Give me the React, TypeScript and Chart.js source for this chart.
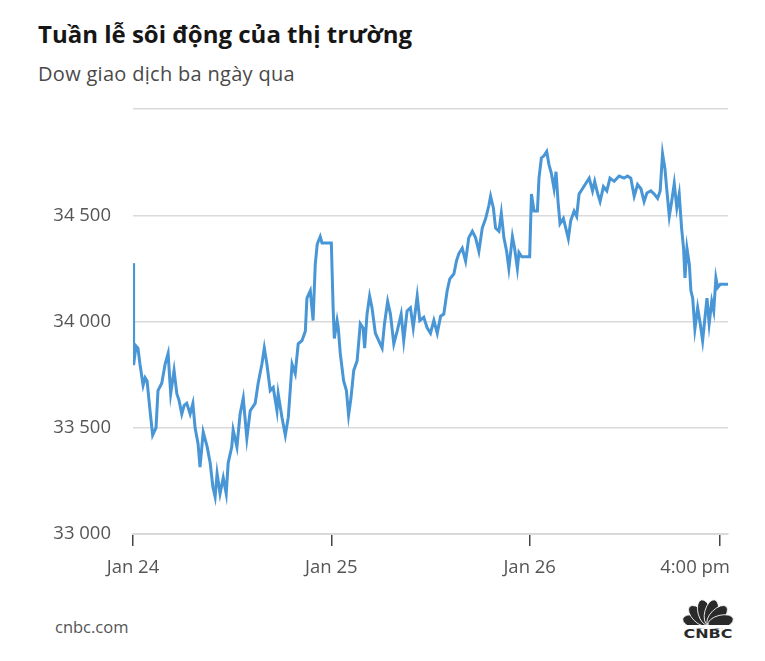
import React, { useEffect, useRef } from "react";
import { Chart, registerables } from "chart.js";

Chart.register(...registerables);

// Time in trading days since the Jan 24 open (each session followed by the overnight gap)
const times: number[] = [
  0.000, 0.003, 0.015, 0.025, 0.035, 0.051, 0.061, 0.071, 0.086, 0.099, 0.116, 0.126, 0.145, 0.162, 0.177, 0.190,
  0.207, 0.221, 0.232, 0.246, 0.258, 0.271, 0.288, 0.302, 0.313, 0.328, 0.338, 0.354, 0.374, 0.389, 0.403, 0.414,
  0.424, 0.439, 0.455, 0.470, 0.480, 0.498, 0.505, 0.524, 0.540, 0.556, 0.574, 0.591, 0.616, 0.631, 0.650, 0.662,
  0.675, 0.692, 0.707, 0.726, 0.732, 0.751, 0.768, 0.783, 0.802, 0.818, 0.833, 0.852, 0.869, 0.877, 0.894, 0.908,
  0.919, 0.929, 0.944, 0.953, 1.000,
  1.009, 1.015, 1.029, 1.035, 1.045, 1.062, 1.076, 1.087, 1.099, 1.113, 1.130, 1.146, 1.160, 1.168, 1.180, 1.193,
  1.205, 1.222, 1.239, 1.256, 1.268, 1.284, 1.298, 1.315, 1.332, 1.352, 1.365, 1.382, 1.399, 1.413, 1.433, 1.446,
  1.466, 1.483, 1.500, 1.517, 1.534, 1.551, 1.567, 1.584, 1.597, 1.618, 1.631, 1.643, 1.660, 1.677, 1.693, 1.711,
  1.727, 1.744, 1.761, 1.778, 1.794, 1.803, 1.817, 1.828, 1.845, 1.857, 1.870, 1.884, 1.895, 1.913, 1.924, 1.938,
  1.946, 1.960, 2.000,
  2.009, 2.022, 2.039, 2.047, 2.059, 2.072, 2.086, 2.097, 2.110, 2.123, 2.133, 2.143, 2.153, 2.170, 2.182, 2.195,
  2.207, 2.224, 2.237, 2.249, 2.266, 2.283, 2.300, 2.317, 2.328, 2.342, 2.355, 2.372, 2.389, 2.405, 2.426, 2.451,
  2.476, 2.493, 2.510, 2.527, 2.544, 2.561, 2.577, 2.591, 2.611, 2.628, 2.645, 2.658, 2.670, 2.682, 2.692, 2.704,
  2.716, 2.729, 2.742, 2.754, 2.766, 2.776, 2.783, 2.793, 2.805, 2.813, 2.822, 2.833, 2.847, 2.860, 2.872, 2.884,
  2.894, 2.905, 2.918, 2.928, 2.939, 2.948, 2.961, 3.000,
];

// Dow Jones Industrial Average level
const dow: number[] = [
  34275, 33795, 33885, 33875, 33800, 33700, 33735, 33720, 33580, 33465, 33500, 33675, 33710, 33800, 33850, 33660,
  33770, 33660, 33630, 33565, 33605, 33615, 33565, 33615, 33500, 33425, 33315, 33480, 33410, 33335, 33220, 33175,
  33285, 33190, 33265, 33190, 33335, 33410, 33490, 33410, 33565, 33640, 33450, 33580, 33615, 33710, 33800, 33875,
  33800, 33675, 33690, 33580, 33660, 33550, 33465, 33550, 33800, 33755, 33895, 33910, 33955, 34110, 34145, 34005,
  34270, 34365, 34400, 34370, 34370,
  34065, 33920, 34005, 33970, 33850, 33720, 33675, 33560, 33640, 33770, 33815, 33990, 33970, 33875, 34035, 34120,
  34065, 33945, 33910, 33875, 33990, 34095, 34035, 33895, 33955, 34035, 33910, 34050, 34065, 33970, 34120, 34005,
  34020, 33970, 33945, 34005, 33945, 34025, 34035, 34145, 34200, 34225, 34285, 34320, 34345, 34285, 34395, 34425,
  34395, 34330, 34440, 34485, 34545, 34590, 34535, 34440, 34425, 34510, 34395, 34330, 34250, 34400, 34345, 34250,
  34325, 34305, 34305,
  34600, 34520, 34520, 34675, 34770, 34780, 34800, 34740, 34695, 34625, 34705, 34565, 34460, 34485, 34440, 34390,
  34475, 34520, 34495, 34600, 34625, 34650, 34675, 34615, 34660, 34605, 34565, 34635, 34615, 34675, 34660, 34685,
  34675, 34685, 34675, 34590, 34645, 34625, 34565, 34605, 34615, 34600, 34580, 34615, 34790, 34720, 34615, 34495,
  34565, 34650, 34535, 34600, 34440, 34345, 34205, 34345, 34270, 34145, 34110, 33965, 34065, 33990, 33910, 34020,
  34110, 33990, 34095, 34050, 34205, 34160, 34175, 34175,
];

const xTickValues: number[] = [0, 1, 2, 2.96];
const xTickLabels: string[] = ["Jan 24", "Jan 25", "Jan 26", "4:00 pm"];
const yTickValues: number[] = [33000, 33500, 34000, 34500, 35000];

const FONT = "'Open Sans', 'Noto Sans', sans-serif";
const TICK_FONT_SIZE = 18.5;

function fmt(v: number): string {
  return String(v).replace(/\B(?=(\d{3})+(?!\d))/g, " ");
}

// Draws the x tick labels, keeping the last one inside the plot's right edge
const xLabelPlugin = {
  id: "xLabels",
  afterDraw(chart: any) {
    const { ctx, chartArea, scales } = chart;
    const x = scales.x;
    ctx.save();
    ctx.font = `${TICK_FONT_SIZE}px ${FONT}`;
    ctx.fillStyle = "#555";
    ctx.textBaseline = "alphabetic";
    ctx.textAlign = "left";
    xTickValues.forEach((v, i) => {
      const label = xTickLabels[i];
      const w = ctx.measureText(label).width;
      const px = x.getPixelForValue(v);
      let left = px - w / 2;
      if (left + w > chartArea.right + 2) left = chartArea.right + 2 - w;
      ctx.fillText(label, left, chartArea.bottom + 39);
    });
    ctx.restore();
  },
};

export default function App() {
  const ref = useRef<HTMLCanvasElement | null>(null);

  useEffect(() => {
    if (!ref.current) return;
    const chart = new Chart(ref.current, {
      type: "line",
      data: {
        datasets: [
          {
            data: times.map((t, i) => ({ x: t, y: dow[i] })),
            borderColor: "#4896d6",
            borderWidth: 3,
            pointRadius: 0,
            tension: 0,
            fill: false,
          },
        ],
      },
      plugins: [xLabelPlugin],
      options: {
        animation: false,
        responsive: false,
        maintainAspectRatio: false,
        layout: { padding: { left: 0, right: 37, top: 14, bottom: 0 } },
        plugins: { legend: { display: false }, tooltip: { enabled: false } },
        scales: {
          x: {
            type: "linear",
            min: 0,
            max: 3,
            afterBuildTicks: (s: any) => {
              s.ticks = xTickValues.map((v) => ({ value: v }));
            },
            afterFit: (s: any) => {
              s.height = 56;
            },
            ticks: { display: false },
            grid: {
              drawOnChartArea: false,
              drawTicks: true,
              tickLength: 12,
              color: "#444",
              lineWidth: 1.5,
            },
            border: { display: true, color: "#d9d9d9", width: 2 },
          },
          y: {
            min: 33000,
            max: 35000,
            afterBuildTicks: (s: any) => {
              s.ticks = yTickValues.map((v) => ({ value: v }));
            },
            afterFit: (s: any) => {
              s.width = 133;
            },
            ticks: {
              padding: 22,
              color: "#555",
              font: { family: FONT, size: TICK_FONT_SIZE },
              callback: (v: any) => (Number(v) === 35000 ? "" : fmt(Number(v))),
            },
            grid: { drawTicks: false, color: "#dadada", lineWidth: 1.5 },
            border: { display: false },
          },
        },
      },
    });
    return () => chart.destroy();
  }, []);

  return (
    <div style={{ position: "absolute", left: 0, top: 0, width: 765, height: 661, background: "#fff", fontFamily: FONT }}>
      <div style={{ position: "absolute", left: 38, top: 19, fontSize: 24, fontWeight: 700, color: "#161616", whiteSpace: "nowrap", lineHeight: "30px" }}>
        Tuần lễ sôi động của thị trường
      </div>
      <div style={{ position: "absolute", left: 38, top: 62, fontSize: 20, letterSpacing: 0.3, color: "#4a4a4a", whiteSpace: "nowrap", lineHeight: "24px" }}>
        Dow giao dịch ba ngày qua
      </div>
      <canvas ref={ref} width={765} height={514} style={{ position: "absolute", left: 0, top: 76, width: 765, height: 514 }} />
      <div style={{ position: "absolute", left: 55, top: 617, fontSize: 16.5, color: "#555", whiteSpace: "nowrap", lineHeight: "20px" }}>
        cnbc.com
      </div>
      <svg style={{ position: "absolute", left: 682, top: 597 }} width={52} height={42} viewBox="0 0 52 42">
        <g fill="#2a2a2a" stroke="#fff" strokeWidth={0.8}>
          {[-76, -45, -15, 15, 45, 76].map((a, i) => (
            <ellipse key={i} cx={26} cy={15} rx={6.6} ry={13} transform={`rotate(${a} 26 28)`} />
          ))}
        </g>
        <rect x={0} y={28} width={52} height={3} fill="#fff" />
        <text x={26} y={41} textAnchor="middle" fontFamily="'DejaVu Sans', sans-serif" fontWeight={700} fontSize={12} textLength={49} lengthAdjust="spacingAndGlyphs" fill="#2a2a2a">
          CNBC
        </text>
      </svg>
    </div>
  );
}
